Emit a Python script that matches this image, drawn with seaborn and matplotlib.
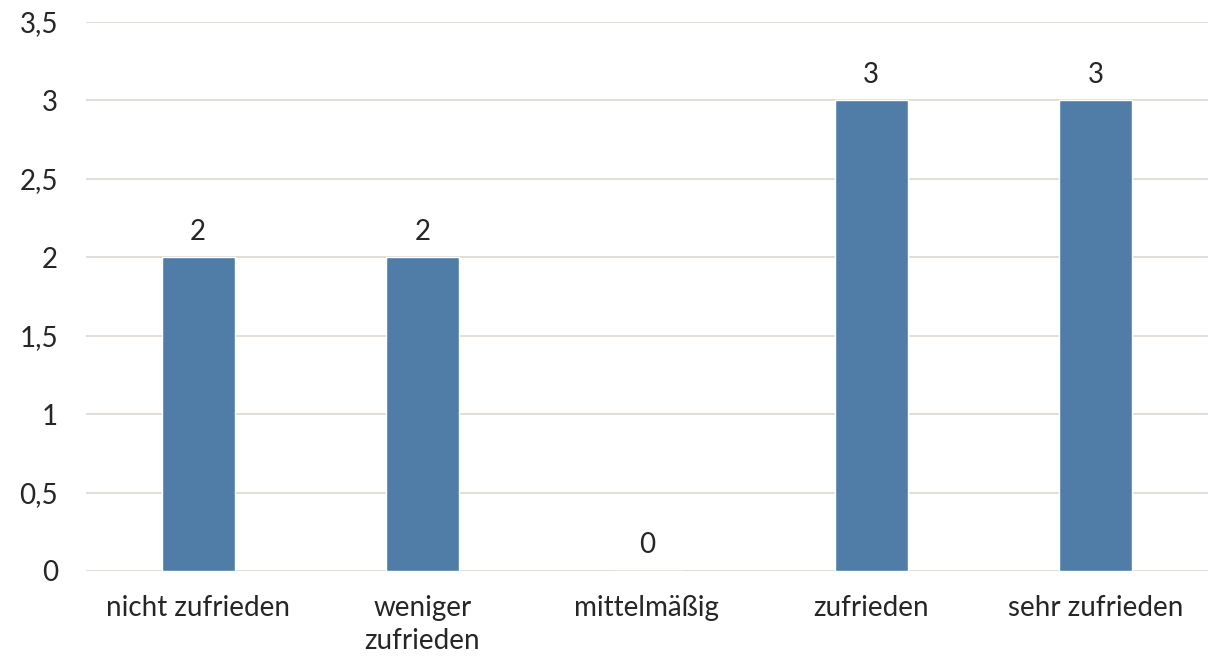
import numpy as np
import matplotlib.pyplot as plt
import matplotlib.ticker as mticker
import pandas as pd
import seaborn as sns

categories = ["nicht zufrieden", "weniger\nzufrieden", "mittelmäßig", "zufrieden", "sehr zufrieden"]
counts = [2, 2, 0, 3, 3]
yticks = [0, 0.5, 1, 1.5, 2, 2.5, 3, 3.5]

BAR_COLOR = "#4F7DA8"
TEXT_COLOR = "#262626"
GRID_COLOR = "#E2DED6"

sns.set_style("white")
plt.rcParams['font.family'] = ['Lato', 'DejaVu Sans']

df = pd.DataFrame({"Kategorie": categories, "Anzahl": counts})

fig = plt.figure(figsize=(12.21, 6.56), dpi=100)
ax = fig.add_axes([0.0704, 0.1296, 0.9186, 0.8369])

sns.barplot(data=df, x="Kategorie", y="Anzahl", color=BAR_COLOR, width=0.325,
            saturation=1, ax=ax, zorder=3)

ax.set_ylim(0, 3.5)
ax.set_yticks(yticks)
ax.yaxis.set_major_formatter(mticker.FuncFormatter(
    lambda v, p: f"{v:g}".replace(".", ",")))
ax.grid(axis="y", color=GRID_COLOR, linewidth=1.4, zorder=0)
ax.set_axisbelow(True)
for s in ax.spines.values():
    s.set_visible(False)
ax.tick_params(axis="both", length=0, labelsize=20, colors=TEXT_COLOR)
ax.tick_params(axis="y", pad=20)
ax.tick_params(axis="x", pad=17)
for lbl in ax.get_xticklabels():
    lbl.set_linespacing(1.35)
ax.set_xlabel("")
ax.set_ylabel("")

for i, v in enumerate(counts):
    ax.annotate(str(v), (i, v), xytext=(0, 9), textcoords="offset points",
                ha="center", va="bottom", fontsize=20, color=TEXT_COLOR)

plt.savefig("out.png", dpi=100)
